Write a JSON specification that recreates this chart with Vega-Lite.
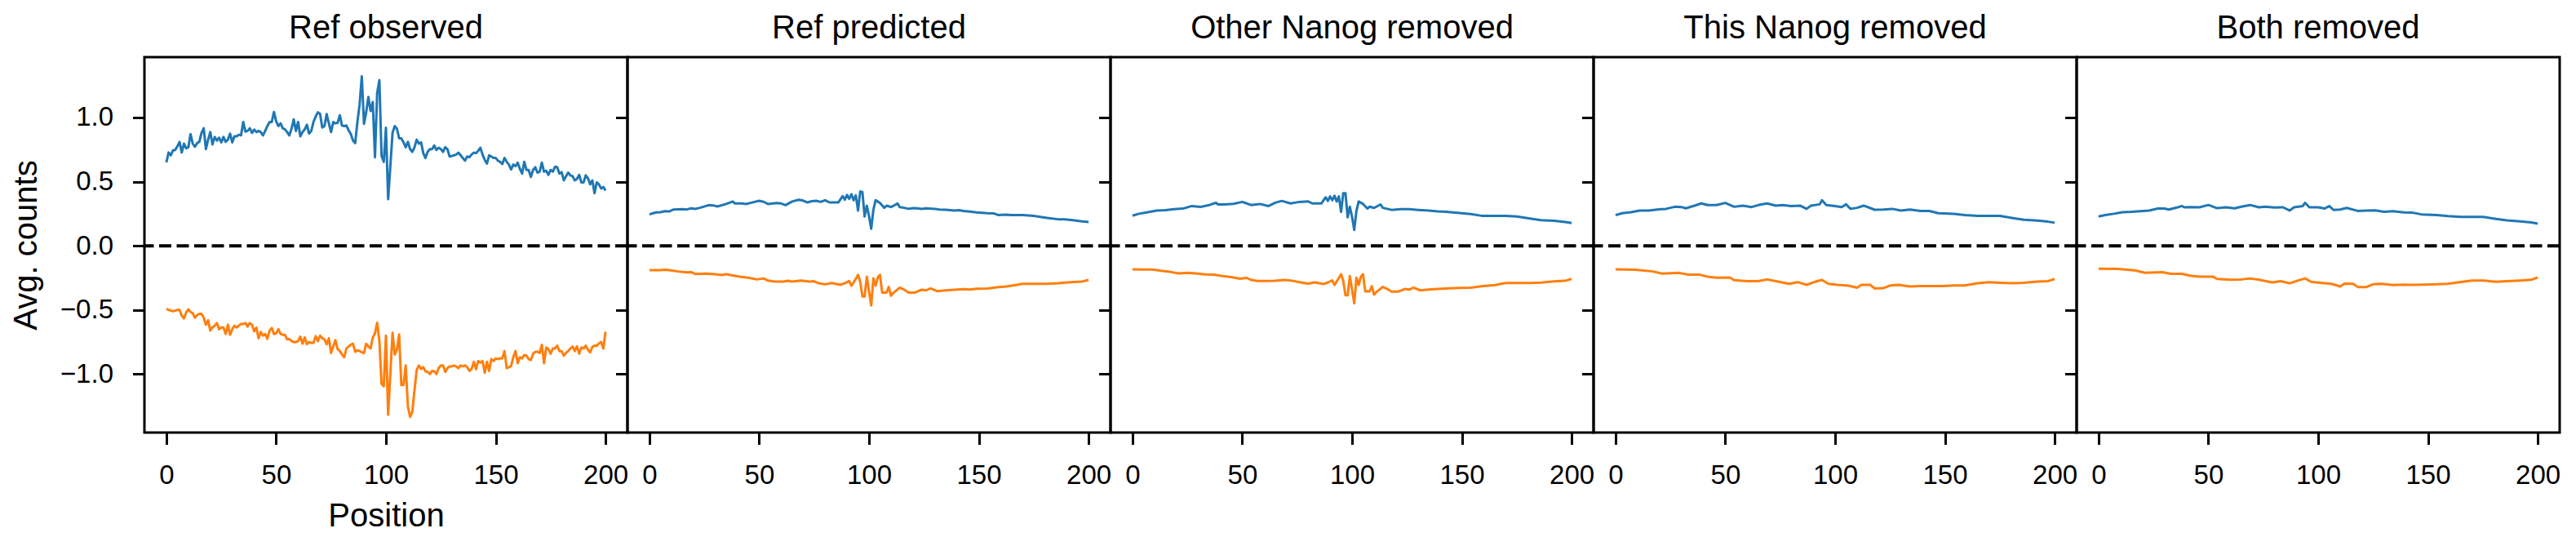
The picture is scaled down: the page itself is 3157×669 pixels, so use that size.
{
"$schema": "https://vega.github.io/schema/vega-lite/v6.json",
"background": "white",
"padding": {"left": 10, "top": 13, "right": 5, "bottom": 5},
"spacing": 0,
"bounds": "flush",
"config": {
  "font": "Liberation Sans",
  "view": {"stroke": "black", "strokeWidth": 3},
  "title": {"font": "Liberation Sans", "fontSize": 40, "fontWeight": "normal", "color": "black", "offset": 15, "baseline": "alphabetic"},
  "axis": {"domain": false, "grid": false, "labelFont": "Liberation Sans", "labelFontSize": 33, "labelColor": "black", "tickColor": "black", "tickSize": 14.5, "tickWidth": 3, "titleFont": "Liberation Sans", "titleFontSize": 40, "titleFontWeight": "normal", "titleColor": "black"},
  "axisX": {"labelPadding": 22, "titlePadding": 13, "labelFlush": false},
  "axisY": {"labelPadding": 24, "titlePadding": 21}
},
"data": {"values": [
{"g":1,"s":"b","x":0,"y":0.65},{"g":1,"s":"b","x":1,"y":0.727},{"g":1,"s":"b","x":2,"y":0.705},{"g":1,"s":"b","x":3,"y":0.743},{"g":1,"s":"b","x":4,"y":0.747},{"g":1,"s":"b","x":5,"y":0.775},{"g":1,"s":"b","x":6,"y":0.81},{"g":1,"s":"b","x":7,"y":0.727},{"g":1,"s":"b","x":8,"y":0.796},{"g":1,"s":"b","x":9,"y":0.76},
{"g":1,"s":"b","x":10,"y":0.768},{"g":1,"s":"b","x":11,"y":0.87},{"g":1,"s":"b","x":12,"y":0.796},{"g":1,"s":"b","x":13,"y":0.772},{"g":1,"s":"b","x":14,"y":0.80},{"g":1,"s":"b","x":15,"y":0.81},{"g":1,"s":"b","x":16,"y":0.88},{"g":1,"s":"b","x":17,"y":0.916},{"g":1,"s":"b","x":18,"y":0.753},{"g":1,"s":"b","x":19,"y":0.827},
{"g":1,"s":"b","x":20,"y":0.886},{"g":1,"s":"b","x":21,"y":0.79},{"g":1,"s":"b","x":22,"y":0.848},{"g":1,"s":"b","x":23,"y":0.82},{"g":1,"s":"b","x":24,"y":0.842},{"g":1,"s":"b","x":25,"y":0.806},{"g":1,"s":"b","x":26,"y":0.848},{"g":1,"s":"b","x":27,"y":0.81},{"g":1,"s":"b","x":28,"y":0.827},{"g":1,"s":"b","x":29,"y":0.874},
{"g":1,"s":"b","x":30,"y":0.806},{"g":1,"s":"b","x":31,"y":0.853},{"g":1,"s":"b","x":32,"y":0.853},{"g":1,"s":"b","x":33,"y":0.865},{"g":1,"s":"b","x":34,"y":0.86},{"g":1,"s":"b","x":35,"y":0.965},{"g":1,"s":"b","x":36,"y":0.89},{"g":1,"s":"b","x":37,"y":0.895},{"g":1,"s":"b","x":38,"y":0.916},{"g":1,"s":"b","x":39,"y":0.88},
{"g":1,"s":"b","x":40,"y":0.905},{"g":1,"s":"b","x":41,"y":0.886},{"g":1,"s":"b","x":42,"y":0.895},{"g":1,"s":"b","x":43,"y":0.886},{"g":1,"s":"b","x":44,"y":0.86},{"g":1,"s":"b","x":45,"y":0.895},{"g":1,"s":"b","x":46,"y":0.933},{"g":1,"s":"b","x":47,"y":0.965},{"g":1,"s":"b","x":48,"y":0.965},{"g":1,"s":"b","x":49,"y":1.043},
{"g":1,"s":"b","x":50,"y":0.97},{"g":1,"s":"b","x":51,"y":0.933},{"g":1,"s":"b","x":52,"y":0.954},{"g":1,"s":"b","x":53,"y":0.916},{"g":1,"s":"b","x":54,"y":0.907},{"g":1,"s":"b","x":55,"y":0.886},{"g":1,"s":"b","x":56,"y":0.86},{"g":1,"s":"b","x":57,"y":0.912},{"g":1,"s":"b","x":58,"y":0.985},{"g":1,"s":"b","x":59,"y":0.895},
{"g":1,"s":"b","x":60,"y":0.965},{"g":1,"s":"b","x":61,"y":0.853},{"g":1,"s":"b","x":62,"y":0.886},{"g":1,"s":"b","x":63,"y":0.907},{"g":1,"s":"b","x":64,"y":0.943},{"g":1,"s":"b","x":65,"y":0.874},{"g":1,"s":"b","x":66,"y":0.895},{"g":1,"s":"b","x":67,"y":0.965},{"g":1,"s":"b","x":68,"y":1.007},{"g":1,"s":"b","x":69,"y":1.04},
{"g":1,"s":"b","x":70,"y":1.028},{"g":1,"s":"b","x":71,"y":0.922},{"g":1,"s":"b","x":72,"y":0.933},{"g":1,"s":"b","x":73,"y":1.026},{"g":1,"s":"b","x":74,"y":0.954},{"g":1,"s":"b","x":75,"y":0.886},{"g":1,"s":"b","x":76,"y":0.965},{"g":1,"s":"b","x":77,"y":0.954},{"g":1,"s":"b","x":78,"y":0.958},{"g":1,"s":"b","x":79,"y":1.017},
{"g":1,"s":"b","x":80,"y":0.937},{"g":1,"s":"b","x":81,"y":0.933},{"g":1,"s":"b","x":82,"y":0.937},{"g":1,"s":"b","x":83,"y":0.90},{"g":1,"s":"b","x":84,"y":0.87},{"g":1,"s":"b","x":85,"y":0.82},{"g":1,"s":"b","x":86,"y":0.80},{"g":1,"s":"b","x":87,"y":0.965},{"g":1,"s":"b","x":88,"y":1.10},{"g":1,"s":"b","x":89,"y":1.32},
{"g":1,"s":"b","x":90,"y":0.95},{"g":1,"s":"b","x":91,"y":1.04},{"g":1,"s":"b","x":92,"y":1.16},{"g":1,"s":"b","x":93,"y":1.05},{"g":1,"s":"b","x":94,"y":1.12},{"g":1,"s":"b","x":95,"y":0.69},{"g":1,"s":"b","x":96,"y":1.19},{"g":1,"s":"b","x":97,"y":1.29},{"g":1,"s":"b","x":98,"y":0.70},{"g":1,"s":"b","x":99,"y":0.654},
{"g":1,"s":"b","x":100,"y":0.92},{"g":1,"s":"b","x":101,"y":0.363},{"g":1,"s":"b","x":102,"y":0.62},{"g":1,"s":"b","x":103,"y":0.88},{"g":1,"s":"b","x":104,"y":0.933},{"g":1,"s":"b","x":105,"y":0.912},{"g":1,"s":"b","x":106,"y":0.838},{"g":1,"s":"b","x":107,"y":0.838},{"g":1,"s":"b","x":108,"y":0.806},{"g":1,"s":"b","x":109,"y":0.768},
{"g":1,"s":"b","x":110,"y":0.81},{"g":1,"s":"b","x":111,"y":0.753},{"g":1,"s":"b","x":112,"y":0.732},{"g":1,"s":"b","x":113,"y":0.768},{"g":1,"s":"b","x":114,"y":0.827},{"g":1,"s":"b","x":115,"y":0.796},{"g":1,"s":"b","x":116,"y":0.806},{"g":1,"s":"b","x":117,"y":0.722},{"g":1,"s":"b","x":118,"y":0.684},{"g":1,"s":"b","x":119,"y":0.732},
{"g":1,"s":"b","x":120,"y":0.753},{"g":1,"s":"b","x":121,"y":0.753},{"g":1,"s":"b","x":122,"y":0.781},{"g":1,"s":"b","x":123,"y":0.747},{"g":1,"s":"b","x":124,"y":0.764},{"g":1,"s":"b","x":125,"y":0.753},{"g":1,"s":"b","x":126,"y":0.732},{"g":1,"s":"b","x":127,"y":0.768},{"g":1,"s":"b","x":128,"y":0.753},{"g":1,"s":"b","x":129,"y":0.696},
{"g":1,"s":"b","x":130,"y":0.70},{"g":1,"s":"b","x":131,"y":0.705},{"g":1,"s":"b","x":132,"y":0.711},{"g":1,"s":"b","x":133,"y":0.726},{"g":1,"s":"b","x":134,"y":0.705},{"g":1,"s":"b","x":135,"y":0.684},{"g":1,"s":"b","x":136,"y":0.663},{"g":1,"s":"b","x":137,"y":0.696},{"g":1,"s":"b","x":138,"y":0.69},{"g":1,"s":"b","x":139,"y":0.711},
{"g":1,"s":"b","x":140,"y":0.726},{"g":1,"s":"b","x":141,"y":0.722},{"g":1,"s":"b","x":142,"y":0.739},{"g":1,"s":"b","x":143,"y":0.764},{"g":1,"s":"b","x":144,"y":0.711},{"g":1,"s":"b","x":145,"y":0.669},{"g":1,"s":"b","x":146,"y":0.641},{"g":1,"s":"b","x":147,"y":0.705},{"g":1,"s":"b","x":148,"y":0.696},{"g":1,"s":"b","x":149,"y":0.684},
{"g":1,"s":"b","x":150,"y":0.684},{"g":1,"s":"b","x":151,"y":0.663},{"g":1,"s":"b","x":152,"y":0.654},{"g":1,"s":"b","x":153,"y":0.637},{"g":1,"s":"b","x":154,"y":0.684},{"g":1,"s":"b","x":155,"y":0.654},{"g":1,"s":"b","x":156,"y":0.633},{"g":1,"s":"b","x":157,"y":0.595},{"g":1,"s":"b","x":158,"y":0.633},{"g":1,"s":"b","x":159,"y":0.62},
{"g":1,"s":"b","x":160,"y":0.648},{"g":1,"s":"b","x":161,"y":0.599},{"g":1,"s":"b","x":162,"y":0.563},{"g":1,"s":"b","x":163,"y":0.654},{"g":1,"s":"b","x":164,"y":0.591},{"g":1,"s":"b","x":165,"y":0.591},{"g":1,"s":"b","x":166,"y":0.536},{"g":1,"s":"b","x":167,"y":0.591},{"g":1,"s":"b","x":168,"y":0.612},{"g":1,"s":"b","x":169,"y":0.57},
{"g":1,"s":"b","x":170,"y":0.578},{"g":1,"s":"b","x":171,"y":0.648},{"g":1,"s":"b","x":172,"y":0.578},{"g":1,"s":"b","x":173,"y":0.585},{"g":1,"s":"b","x":174,"y":0.553},{"g":1,"s":"b","x":175,"y":0.591},{"g":1,"s":"b","x":176,"y":0.578},{"g":1,"s":"b","x":177,"y":0.616},{"g":1,"s":"b","x":178,"y":0.612},{"g":1,"s":"b","x":179,"y":0.563},
{"g":1,"s":"b","x":180,"y":0.574},{"g":1,"s":"b","x":181,"y":0.51},{"g":1,"s":"b","x":182,"y":0.542},{"g":1,"s":"b","x":183,"y":0.57},{"g":1,"s":"b","x":184,"y":0.549},{"g":1,"s":"b","x":185,"y":0.542},{"g":1,"s":"b","x":186,"y":0.51},{"g":1,"s":"b","x":187,"y":0.521},{"g":1,"s":"b","x":188,"y":0.553},{"g":1,"s":"b","x":189,"y":0.494},
{"g":1,"s":"b","x":190,"y":0.494},{"g":1,"s":"b","x":191,"y":0.549},{"g":1,"s":"b","x":192,"y":0.527},{"g":1,"s":"b","x":193,"y":0.479},{"g":1,"s":"b","x":194,"y":0.51},{"g":1,"s":"b","x":195,"y":0.41},{"g":1,"s":"b","x":196,"y":0.494},{"g":1,"s":"b","x":197,"y":0.479},{"g":1,"s":"b","x":198,"y":0.447},{"g":1,"s":"b","x":199,"y":0.458},
{"g":1,"s":"b","x":200,"y":0.43},
{"g":1,"s":"o","x":0,"y":-0.49},{"g":1,"s":"o","x":1,"y":-0.50},{"g":1,"s":"o","x":2,"y":-0.505},{"g":1,"s":"o","x":3,"y":-0.51},{"g":1,"s":"o","x":4,"y":-0.505},{"g":1,"s":"o","x":5,"y":-0.50},{"g":1,"s":"o","x":6,"y":-0.50},{"g":1,"s":"o","x":7,"y":-0.545},{"g":1,"s":"o","x":8,"y":-0.566},{"g":1,"s":"o","x":9,"y":-0.52},
{"g":1,"s":"o","x":10,"y":-0.495},{"g":1,"s":"o","x":11,"y":-0.515},{"g":1,"s":"o","x":12,"y":-0.525},{"g":1,"s":"o","x":13,"y":-0.56},{"g":1,"s":"o","x":14,"y":-0.54},{"g":1,"s":"o","x":15,"y":-0.53},{"g":1,"s":"o","x":16,"y":-0.53},{"g":1,"s":"o","x":17,"y":-0.56},{"g":1,"s":"o","x":18,"y":-0.615},{"g":1,"s":"o","x":19,"y":-0.58},
{"g":1,"s":"o","x":20,"y":-0.66},{"g":1,"s":"o","x":21,"y":-0.636},{"g":1,"s":"o","x":22,"y":-0.623},{"g":1,"s":"o","x":23,"y":-0.602},{"g":1,"s":"o","x":24,"y":-0.65},{"g":1,"s":"o","x":25,"y":-0.636},{"g":1,"s":"o","x":26,"y":-0.636},{"g":1,"s":"o","x":27,"y":-0.687},{"g":1,"s":"o","x":28,"y":-0.615},{"g":1,"s":"o","x":29,"y":-0.693},
{"g":1,"s":"o","x":30,"y":-0.65},{"g":1,"s":"o","x":31,"y":-0.623},{"g":1,"s":"o","x":32,"y":-0.636},{"g":1,"s":"o","x":33,"y":-0.623},{"g":1,"s":"o","x":34,"y":-0.609},{"g":1,"s":"o","x":35,"y":-0.609},{"g":1,"s":"o","x":36,"y":-0.602},{"g":1,"s":"o","x":37,"y":-0.63},{"g":1,"s":"o","x":38,"y":-0.602},{"g":1,"s":"o","x":39,"y":-0.615},
{"g":1,"s":"o","x":40,"y":-0.666},{"g":1,"s":"o","x":41,"y":-0.636},{"g":1,"s":"o","x":42,"y":-0.72},{"g":1,"s":"o","x":43,"y":-0.672},{"g":1,"s":"o","x":44,"y":-0.70},{"g":1,"s":"o","x":45,"y":-0.687},{"g":1,"s":"o","x":46,"y":-0.725},{"g":1,"s":"o","x":47,"y":-0.661},{"g":1,"s":"o","x":48,"y":-0.64},{"g":1,"s":"o","x":49,"y":-0.687},
{"g":1,"s":"o","x":50,"y":-0.683},{"g":1,"s":"o","x":51,"y":-0.65},{"g":1,"s":"o","x":52,"y":-0.687},{"g":1,"s":"o","x":53,"y":-0.693},{"g":1,"s":"o","x":54,"y":-0.693},{"g":1,"s":"o","x":55,"y":-0.729},{"g":1,"s":"o","x":56,"y":-0.725},{"g":1,"s":"o","x":57,"y":-0.742},{"g":1,"s":"o","x":58,"y":-0.75},{"g":1,"s":"o","x":59,"y":-0.75},
{"g":1,"s":"o","x":60,"y":-0.742},{"g":1,"s":"o","x":61,"y":-0.708},{"g":1,"s":"o","x":62,"y":-0.763},{"g":1,"s":"o","x":63,"y":-0.714},{"g":1,"s":"o","x":64,"y":-0.767},{"g":1,"s":"o","x":65,"y":-0.75},{"g":1,"s":"o","x":66,"y":-0.756},{"g":1,"s":"o","x":67,"y":-0.756},{"g":1,"s":"o","x":68,"y":-0.704},{"g":1,"s":"o","x":69,"y":-0.742},
{"g":1,"s":"o","x":70,"y":-0.70},{"g":1,"s":"o","x":71,"y":-0.72},{"g":1,"s":"o","x":72,"y":-0.729},{"g":1,"s":"o","x":73,"y":-0.767},{"g":1,"s":"o","x":74,"y":-0.72},{"g":1,"s":"o","x":75,"y":-0.835},{"g":1,"s":"o","x":76,"y":-0.784},{"g":1,"s":"o","x":77,"y":-0.735},{"g":1,"s":"o","x":78,"y":-0.805},{"g":1,"s":"o","x":79,"y":-0.82},
{"g":1,"s":"o","x":80,"y":-0.847},{"g":1,"s":"o","x":81,"y":-0.868},{"g":1,"s":"o","x":82,"y":-0.80},{"g":1,"s":"o","x":83,"y":-0.784},{"g":1,"s":"o","x":84,"y":-0.771},{"g":1,"s":"o","x":85,"y":-0.763},{"g":1,"s":"o","x":86,"y":-0.826},{"g":1,"s":"o","x":87,"y":-0.813},{"g":1,"s":"o","x":88,"y":-0.82},{"g":1,"s":"o","x":89,"y":-0.83},
{"g":1,"s":"o","x":90,"y":-0.835},{"g":1,"s":"o","x":91,"y":-0.763},{"g":1,"s":"o","x":92,"y":-0.784},{"g":1,"s":"o","x":93,"y":-0.80},{"g":1,"s":"o","x":94,"y":-0.714},{"g":1,"s":"o","x":95,"y":-0.683},{"g":1,"s":"o","x":96,"y":-0.60},{"g":1,"s":"o","x":97,"y":-0.74},{"g":1,"s":"o","x":98,"y":-1.075},{"g":1,"s":"o","x":99,"y":-1.095},
{"g":1,"s":"o","x":100,"y":-0.70},{"g":1,"s":"o","x":101,"y":-1.316},{"g":1,"s":"o","x":102,"y":-1.0},{"g":1,"s":"o","x":103,"y":-0.678},{"g":1,"s":"o","x":104,"y":-0.847},{"g":1,"s":"o","x":105,"y":-0.81},{"g":1,"s":"o","x":106,"y":-0.69},{"g":1,"s":"o","x":107,"y":-1.085},{"g":1,"s":"o","x":108,"y":-1.085},{"g":1,"s":"o","x":109,"y":-0.932},
{"g":1,"s":"o","x":110,"y":-1.253},{"g":1,"s":"o","x":111,"y":-1.333},{"g":1,"s":"o","x":112,"y":-1.295},{"g":1,"s":"o","x":113,"y":-1.126},{"g":1,"s":"o","x":114,"y":-0.968},{"g":1,"s":"o","x":115,"y":-0.932},{"g":1,"s":"o","x":116,"y":-0.961},{"g":1,"s":"o","x":117,"y":-0.946},{"g":1,"s":"o","x":118,"y":-0.978},{"g":1,"s":"o","x":119,"y":-0.982},
{"g":1,"s":"o","x":120,"y":-0.999},{"g":1,"s":"o","x":121,"y":-0.974},{"g":1,"s":"o","x":122,"y":-0.978},{"g":1,"s":"o","x":123,"y":-0.999},{"g":1,"s":"o","x":124,"y":-0.953},{"g":1,"s":"o","x":125,"y":-0.932},{"g":1,"s":"o","x":126,"y":-0.932},{"g":1,"s":"o","x":127,"y":-0.982},{"g":1,"s":"o","x":128,"y":-0.953},{"g":1,"s":"o","x":129,"y":-0.94},
{"g":1,"s":"o","x":130,"y":-0.94},{"g":1,"s":"o","x":131,"y":-0.932},{"g":1,"s":"o","x":132,"y":-0.94},{"g":1,"s":"o","x":133,"y":-0.953},{"g":1,"s":"o","x":134,"y":-0.932},{"g":1,"s":"o","x":135,"y":-0.94},{"g":1,"s":"o","x":136,"y":-0.932},{"g":1,"s":"o","x":137,"y":-0.946},{"g":1,"s":"o","x":138,"y":-0.974},{"g":1,"s":"o","x":139,"y":-0.961},
{"g":1,"s":"o","x":140,"y":-0.904},{"g":1,"s":"o","x":141,"y":-0.961},{"g":1,"s":"o","x":142,"y":-0.898},{"g":1,"s":"o","x":143,"y":-0.91},{"g":1,"s":"o","x":144,"y":-0.898},{"g":1,"s":"o","x":145,"y":-0.989},{"g":1,"s":"o","x":146,"y":-0.904},{"g":1,"s":"o","x":147,"y":-0.974},{"g":1,"s":"o","x":148,"y":-0.883},{"g":1,"s":"o","x":149,"y":-0.898},
{"g":1,"s":"o","x":150,"y":-0.877},{"g":1,"s":"o","x":151,"y":-0.883},{"g":1,"s":"o","x":152,"y":-0.877},{"g":1,"s":"o","x":153,"y":-0.877},{"g":1,"s":"o","x":154,"y":-0.82},{"g":1,"s":"o","x":155,"y":-0.953},{"g":1,"s":"o","x":156,"y":-0.946},{"g":1,"s":"o","x":157,"y":-0.936},{"g":1,"s":"o","x":158,"y":-0.868},{"g":1,"s":"o","x":159,"y":-0.82},
{"g":1,"s":"o","x":160,"y":-0.915},{"g":1,"s":"o","x":161,"y":-0.868},{"g":1,"s":"o","x":162,"y":-0.877},{"g":1,"s":"o","x":163,"y":-0.851},{"g":1,"s":"o","x":164,"y":-0.856},{"g":1,"s":"o","x":165,"y":-0.883},{"g":1,"s":"o","x":166,"y":-0.89},{"g":1,"s":"o","x":167,"y":-0.841},{"g":1,"s":"o","x":168,"y":-0.826},{"g":1,"s":"o","x":169,"y":-0.826},
{"g":1,"s":"o","x":170,"y":-0.835},{"g":1,"s":"o","x":171,"y":-0.771},{"g":1,"s":"o","x":172,"y":-0.915},{"g":1,"s":"o","x":173,"y":-0.792},{"g":1,"s":"o","x":174,"y":-0.805},{"g":1,"s":"o","x":175,"y":-0.841},{"g":1,"s":"o","x":176,"y":-0.80},{"g":1,"s":"o","x":177,"y":-0.80},{"g":1,"s":"o","x":178,"y":-0.778},{"g":1,"s":"o","x":179,"y":-0.82},
{"g":1,"s":"o","x":180,"y":-0.82},{"g":1,"s":"o","x":181,"y":-0.856},{"g":1,"s":"o","x":182,"y":-0.835},{"g":1,"s":"o","x":183,"y":-0.82},{"g":1,"s":"o","x":184,"y":-0.80},{"g":1,"s":"o","x":185,"y":-0.784},{"g":1,"s":"o","x":186,"y":-0.82},{"g":1,"s":"o","x":187,"y":-0.784},{"g":1,"s":"o","x":188,"y":-0.841},{"g":1,"s":"o","x":189,"y":-0.792},
{"g":1,"s":"o","x":190,"y":-0.80},{"g":1,"s":"o","x":191,"y":-0.778},{"g":1,"s":"o","x":192,"y":-0.81},{"g":1,"s":"o","x":193,"y":-0.83},{"g":1,"s":"o","x":194,"y":-0.788},{"g":1,"s":"o","x":195,"y":-0.778},{"g":1,"s":"o","x":196,"y":-0.78},{"g":1,"s":"o","x":197,"y":-0.76},{"g":1,"s":"o","x":198,"y":-0.75},{"g":1,"s":"o","x":199,"y":-0.80},
{"g":1,"s":"o","x":200,"y":-0.67},
{"g":2,"s":"b","x":0,"y":0.245},{"g":2,"s":"b","x":3,"y":0.26},{"g":2,"s":"b","x":5,"y":0.262},{"g":2,"s":"b","x":7,"y":0.27},{"g":2,"s":"b","x":9,"y":0.268},{"g":2,"s":"b","x":11,"y":0.283},{"g":2,"s":"b","x":15,"y":0.285},{"g":2,"s":"b","x":17,"y":0.283},{"g":2,"s":"b","x":19,"y":0.292},{"g":2,"s":"b","x":21,"y":0.288},{"g":2,"s":"b","x":23,"y":0.296},{"g":2,"s":"b","x":27,"y":0.317},{"g":2,"s":"b","x":29,"y":0.315},{"g":2,"s":"b","x":31,"y":0.306},{"g":2,"s":"b","x":35,"y":0.326},{"g":2,"s":"b","x":38,"y":0.345},{"g":2,"s":"b","x":39,"y":0.33},{"g":2,"s":"b","x":42,"y":0.33},{"g":2,"s":"b","x":44,"y":0.325},{"g":2,"s":"b","x":46,"y":0.334},{"g":2,"s":"b","x":50,"y":0.351},{"g":2,"s":"b","x":52,"y":0.343},{"g":2,"s":"b","x":54,"y":0.326},{"g":2,"s":"b","x":58,"y":0.334},{"g":2,"s":"b","x":60,"y":0.33},{"g":2,"s":"b","x":62,"y":0.317},{"g":2,"s":"b","x":65,"y":0.345},{"g":2,"s":"b","x":68,"y":0.359},{"g":2,"s":"b","x":70,"y":0.352},{"g":2,"s":"b","x":72,"y":0.338},{"g":2,"s":"b","x":74,"y":0.348},{"g":2,"s":"b","x":76,"y":0.351},{"g":2,"s":"b","x":78,"y":0.342},{"g":2,"s":"b","x":80,"y":0.355},{"g":2,"s":"b","x":82,"y":0.338},{"g":2,"s":"b","x":86,"y":0.338},{"g":2,"s":"b","x":88,"y":0.387},{"g":2,"s":"b","x":89,"y":0.359},{"g":2,"s":"b","x":90,"y":0.397},{"g":2,"s":"b","x":91,"y":0.366},{"g":2,"s":"b","x":92,"y":0.402},{"g":2,"s":"b","x":93,"y":0.355},{"g":2,"s":"b","x":94,"y":0.393},{"g":2,"s":"b","x":95,"y":0.275},{"g":2,"s":"b","x":96,"y":0.423},{"g":2,"s":"b","x":97,"y":0.419},{"g":2,"s":"b","x":98,"y":0.228},{"g":2,"s":"b","x":99,"y":0.313},{"g":2,"s":"b","x":100,"y":0.233},{"g":2,"s":"b","x":101,"y":0.133},{"g":2,"s":"b","x":102,"y":0.281},{"g":2,"s":"b","x":103,"y":0.355},{"g":2,"s":"b","x":105,"y":0.334},{"g":2,"s":"b","x":107,"y":0.296},{"g":2,"s":"b","x":108,"y":0.313},{"g":2,"s":"b","x":110,"y":0.302},{"g":2,"s":"b","x":111,"y":0.31},{"g":2,"s":"b","x":113,"y":0.33},{"g":2,"s":"b","x":114,"y":0.302},{"g":2,"s":"b","x":116,"y":0.296},{"g":2,"s":"b","x":118,"y":0.288},{"g":2,"s":"b","x":120,"y":0.294},{"g":2,"s":"b","x":122,"y":0.292},{"g":2,"s":"b","x":124,"y":0.288},{"g":2,"s":"b","x":126,"y":0.292},{"g":2,"s":"b","x":130,"y":0.288},{"g":2,"s":"b","x":132,"y":0.282},{"g":2,"s":"b","x":135,"y":0.281},{"g":2,"s":"b","x":137,"y":0.278},{"g":2,"s":"b","x":139,"y":0.275},{"g":2,"s":"b","x":141,"y":0.278},{"g":2,"s":"b","x":143,"y":0.271},{"g":2,"s":"b","x":146,"y":0.266},{"g":2,"s":"b","x":149,"y":0.26},{"g":2,"s":"b","x":154,"y":0.254},{"g":2,"s":"b","x":157,"y":0.252},{"g":2,"s":"b","x":159,"y":0.239},{"g":2,"s":"b","x":162,"y":0.243},{"g":2,"s":"b","x":165,"y":0.239},{"g":2,"s":"b","x":170,"y":0.239},{"g":2,"s":"b","x":175,"y":0.233},{"g":2,"s":"b","x":178,"y":0.225},{"g":2,"s":"b","x":181,"y":0.218},{"g":2,"s":"b","x":186,"y":0.207},{"g":2,"s":"b","x":189,"y":0.206},{"g":2,"s":"b","x":192,"y":0.201},{"g":2,"s":"b","x":197,"y":0.19},{"g":2,"s":"b","x":200,"y":0.186},
{"g":2,"s":"o","x":0,"y":-0.19},{"g":2,"s":"o","x":5,"y":-0.19},{"g":2,"s":"o","x":7,"y":-0.186},{"g":2,"s":"o","x":9,"y":-0.19},{"g":2,"s":"o","x":13,"y":-0.2},{"g":2,"s":"o","x":17,"y":-0.207},{"g":2,"s":"o","x":19,"y":-0.205},{"g":2,"s":"o","x":21,"y":-0.22},{"g":2,"s":"o","x":25,"y":-0.216},{"g":2,"s":"o","x":29,"y":-0.22},{"g":2,"s":"o","x":33,"y":-0.228},{"g":2,"s":"o","x":35,"y":-0.222},{"g":2,"s":"o","x":37,"y":-0.228},{"g":2,"s":"o","x":41,"y":-0.241},{"g":2,"s":"o","x":45,"y":-0.249},{"g":2,"s":"o","x":49,"y":-0.262},{"g":2,"s":"o","x":52,"y":-0.254},{"g":2,"s":"o","x":54,"y":-0.271},{"g":2,"s":"o","x":57,"y":-0.279},{"g":2,"s":"o","x":61,"y":-0.279},{"g":2,"s":"o","x":63,"y":-0.272},{"g":2,"s":"o","x":65,"y":-0.279},{"g":2,"s":"o","x":69,"y":-0.271},{"g":2,"s":"o","x":73,"y":-0.279},{"g":2,"s":"o","x":75,"y":-0.276},{"g":2,"s":"o","x":77,"y":-0.292},{"g":2,"s":"o","x":80,"y":-0.3},{"g":2,"s":"o","x":83,"y":-0.29},{"g":2,"s":"o","x":87,"y":-0.304},{"g":2,"s":"o","x":89,"y":-0.29},{"g":2,"s":"o","x":91,"y":-0.275},{"g":2,"s":"o","x":92,"y":-0.311},{"g":2,"s":"o","x":94,"y":-0.258},{"g":2,"s":"o","x":95,"y":-0.226},{"g":2,"s":"o","x":96,"y":-0.279},{"g":2,"s":"o","x":97,"y":-0.395},{"g":2,"s":"o","x":98,"y":-0.395},{"g":2,"s":"o","x":99,"y":-0.241},{"g":2,"s":"o","x":101,"y":-0.465},{"g":2,"s":"o","x":102,"y":-0.254},{"g":2,"s":"o","x":103,"y":-0.311},{"g":2,"s":"o","x":104,"y":-0.247},{"g":2,"s":"o","x":105,"y":-0.226},{"g":2,"s":"o","x":106,"y":-0.364},{"g":2,"s":"o","x":108,"y":-0.364},{"g":2,"s":"o","x":109,"y":-0.321},{"g":2,"s":"o","x":110,"y":-0.389},{"g":2,"s":"o","x":111,"y":-0.368},{"g":2,"s":"o","x":114,"y":-0.326},{"g":2,"s":"o","x":116,"y":-0.342},{"g":2,"s":"o","x":118,"y":-0.364},{"g":2,"s":"o","x":121,"y":-0.364},{"g":2,"s":"o","x":124,"y":-0.342},{"g":2,"s":"o","x":126,"y":-0.347},{"g":2,"s":"o","x":128,"y":-0.332},{"g":2,"s":"o","x":131,"y":-0.353},{"g":2,"s":"o","x":135,"y":-0.347},{"g":2,"s":"o","x":139,"y":-0.342},{"g":2,"s":"o","x":143,"y":-0.338},{"g":2,"s":"o","x":146,"y":-0.341},{"g":2,"s":"o","x":149,"y":-0.334},{"g":2,"s":"o","x":154,"y":-0.332},{"g":2,"s":"o","x":159,"y":-0.321},{"g":2,"s":"o","x":162,"y":-0.318},{"g":2,"s":"o","x":165,"y":-0.311},{"g":2,"s":"o","x":170,"y":-0.296},{"g":2,"s":"o","x":175,"y":-0.296},{"g":2,"s":"o","x":181,"y":-0.296},{"g":2,"s":"o","x":186,"y":-0.292},{"g":2,"s":"o","x":192,"y":-0.283},{"g":2,"s":"o","x":197,"y":-0.279},{"g":2,"s":"o","x":200,"y":-0.266},
{"g":3,"s":"b","x":0,"y":0.235},{"g":3,"s":"b","x":3,"y":0.25},{"g":3,"s":"b","x":7,"y":0.262},{"g":3,"s":"b","x":11,"y":0.275},{"g":3,"s":"b","x":15,"y":0.278},{"g":3,"s":"b","x":19,"y":0.285},{"g":3,"s":"b","x":23,"y":0.29},{"g":3,"s":"b","x":27,"y":0.31},{"g":3,"s":"b","x":31,"y":0.303},{"g":3,"s":"b","x":35,"y":0.318},{"g":3,"s":"b","x":38,"y":0.335},{"g":3,"s":"b","x":39,"y":0.322},{"g":3,"s":"b","x":42,"y":0.322},{"g":3,"s":"b","x":46,"y":0.327},{"g":3,"s":"b","x":50,"y":0.342},{"g":3,"s":"b","x":54,"y":0.318},{"g":3,"s":"b","x":58,"y":0.326},{"g":3,"s":"b","x":62,"y":0.31},{"g":3,"s":"b","x":65,"y":0.336},{"g":3,"s":"b","x":68,"y":0.35},{"g":3,"s":"b","x":72,"y":0.33},{"g":3,"s":"b","x":76,"y":0.342},{"g":3,"s":"b","x":80,"y":0.346},{"g":3,"s":"b","x":82,"y":0.33},{"g":3,"s":"b","x":86,"y":0.33},{"g":3,"s":"b","x":88,"y":0.378},{"g":3,"s":"b","x":89,"y":0.35},{"g":3,"s":"b","x":90,"y":0.385},{"g":3,"s":"b","x":91,"y":0.355},{"g":3,"s":"b","x":92,"y":0.39},{"g":3,"s":"b","x":93,"y":0.345},{"g":3,"s":"b","x":94,"y":0.385},{"g":3,"s":"b","x":95,"y":0.265},{"g":3,"s":"b","x":96,"y":0.41},{"g":3,"s":"b","x":97,"y":0.41},{"g":3,"s":"b","x":98,"y":0.222},{"g":3,"s":"b","x":99,"y":0.305},{"g":3,"s":"b","x":100,"y":0.225},{"g":3,"s":"b","x":101,"y":0.123},{"g":3,"s":"b","x":102,"y":0.272},{"g":3,"s":"b","x":103,"y":0.345},{"g":3,"s":"b","x":105,"y":0.326},{"g":3,"s":"b","x":107,"y":0.29},{"g":3,"s":"b","x":108,"y":0.305},{"g":3,"s":"b","x":110,"y":0.295},{"g":3,"s":"b","x":113,"y":0.322},{"g":3,"s":"b","x":114,"y":0.296},{"g":3,"s":"b","x":118,"y":0.28},{"g":3,"s":"b","x":122,"y":0.285},{"g":3,"s":"b","x":126,"y":0.285},{"g":3,"s":"b","x":130,"y":0.28},{"g":3,"s":"b","x":135,"y":0.274},{"g":3,"s":"b","x":139,"y":0.268},{"g":3,"s":"b","x":143,"y":0.265},{"g":3,"s":"b","x":149,"y":0.255},{"g":3,"s":"b","x":154,"y":0.248},{"g":3,"s":"b","x":159,"y":0.234},{"g":3,"s":"b","x":165,"y":0.234},{"g":3,"s":"b","x":170,"y":0.233},{"g":3,"s":"b","x":175,"y":0.228},{"g":3,"s":"b","x":181,"y":0.212},{"g":3,"s":"b","x":186,"y":0.2},{"g":3,"s":"b","x":192,"y":0.195},{"g":3,"s":"b","x":197,"y":0.185},{"g":3,"s":"b","x":200,"y":0.177},
{"g":3,"s":"o","x":0,"y":-0.184},{"g":3,"s":"o","x":5,"y":-0.185},{"g":3,"s":"o","x":9,"y":-0.185},{"g":3,"s":"o","x":13,"y":-0.195},{"g":3,"s":"o","x":17,"y":-0.203},{"g":3,"s":"o","x":21,"y":-0.215},{"g":3,"s":"o","x":25,"y":-0.21},{"g":3,"s":"o","x":29,"y":-0.215},{"g":3,"s":"o","x":33,"y":-0.223},{"g":3,"s":"o","x":37,"y":-0.224},{"g":3,"s":"o","x":41,"y":-0.236},{"g":3,"s":"o","x":45,"y":-0.244},{"g":3,"s":"o","x":49,"y":-0.256},{"g":3,"s":"o","x":52,"y":-0.25},{"g":3,"s":"o","x":54,"y":-0.266},{"g":3,"s":"o","x":57,"y":-0.274},{"g":3,"s":"o","x":61,"y":-0.274},{"g":3,"s":"o","x":65,"y":-0.272},{"g":3,"s":"o","x":69,"y":-0.266},{"g":3,"s":"o","x":73,"y":-0.273},{"g":3,"s":"o","x":77,"y":-0.286},{"g":3,"s":"o","x":80,"y":-0.295},{"g":3,"s":"o","x":83,"y":-0.285},{"g":3,"s":"o","x":87,"y":-0.298},{"g":3,"s":"o","x":89,"y":-0.285},{"g":3,"s":"o","x":91,"y":-0.27},{"g":3,"s":"o","x":92,"y":-0.305},{"g":3,"s":"o","x":94,"y":-0.252},{"g":3,"s":"o","x":95,"y":-0.222},{"g":3,"s":"o","x":96,"y":-0.274},{"g":3,"s":"o","x":97,"y":-0.385},{"g":3,"s":"o","x":98,"y":-0.385},{"g":3,"s":"o","x":99,"y":-0.236},{"g":3,"s":"o","x":101,"y":-0.448},{"g":3,"s":"o","x":102,"y":-0.248},{"g":3,"s":"o","x":103,"y":-0.305},{"g":3,"s":"o","x":104,"y":-0.242},{"g":3,"s":"o","x":105,"y":-0.222},{"g":3,"s":"o","x":106,"y":-0.355},{"g":3,"s":"o","x":108,"y":-0.355},{"g":3,"s":"o","x":109,"y":-0.315},{"g":3,"s":"o","x":110,"y":-0.38},{"g":3,"s":"o","x":111,"y":-0.362},{"g":3,"s":"o","x":114,"y":-0.32},{"g":3,"s":"o","x":116,"y":-0.336},{"g":3,"s":"o","x":118,"y":-0.357},{"g":3,"s":"o","x":121,"y":-0.357},{"g":3,"s":"o","x":124,"y":-0.336},{"g":3,"s":"o","x":126,"y":-0.341},{"g":3,"s":"o","x":128,"y":-0.326},{"g":3,"s":"o","x":131,"y":-0.347},{"g":3,"s":"o","x":135,"y":-0.34},{"g":3,"s":"o","x":139,"y":-0.336},{"g":3,"s":"o","x":143,"y":-0.332},{"g":3,"s":"o","x":149,"y":-0.328},{"g":3,"s":"o","x":154,"y":-0.326},{"g":3,"s":"o","x":159,"y":-0.315},{"g":3,"s":"o","x":165,"y":-0.306},{"g":3,"s":"o","x":170,"y":-0.29},{"g":3,"s":"o","x":175,"y":-0.29},{"g":3,"s":"o","x":181,"y":-0.29},{"g":3,"s":"o","x":186,"y":-0.286},{"g":3,"s":"o","x":192,"y":-0.277},{"g":3,"s":"o","x":197,"y":-0.273},{"g":3,"s":"o","x":200,"y":-0.258},
{"g":4,"s":"b","x":0,"y":0.239},{"g":4,"s":"b","x":3,"y":0.254},{"g":4,"s":"b","x":7,"y":0.262},{"g":4,"s":"b","x":11,"y":0.275},{"g":4,"s":"b","x":15,"y":0.275},{"g":4,"s":"b","x":19,"y":0.283},{"g":4,"s":"b","x":23,"y":0.288},{"g":4,"s":"b","x":27,"y":0.304},{"g":4,"s":"b","x":30,"y":0.302},{"g":4,"s":"b","x":32,"y":0.292},{"g":4,"s":"b","x":36,"y":0.313},{"g":4,"s":"b","x":39,"y":0.33},{"g":4,"s":"b","x":42,"y":0.317},{"g":4,"s":"b","x":46,"y":0.317},{"g":4,"s":"b","x":50,"y":0.334},{"g":4,"s":"b","x":54,"y":0.304},{"g":4,"s":"b","x":58,"y":0.313},{"g":4,"s":"b","x":62,"y":0.302},{"g":4,"s":"b","x":65,"y":0.317},{"g":4,"s":"b","x":69,"y":0.33},{"g":4,"s":"b","x":73,"y":0.313},{"g":4,"s":"b","x":76,"y":0.317},{"g":4,"s":"b","x":80,"y":0.309},{"g":4,"s":"b","x":84,"y":0.313},{"g":4,"s":"b","x":87,"y":0.288},{"g":4,"s":"b","x":89,"y":0.313},{"g":4,"s":"b","x":93,"y":0.323},{"g":4,"s":"b","x":94,"y":0.355},{"g":4,"s":"b","x":96,"y":0.317},{"g":4,"s":"b","x":100,"y":0.309},{"g":4,"s":"b","x":103,"y":0.302},{"g":4,"s":"b","x":105,"y":0.323},{"g":4,"s":"b","x":107,"y":0.288},{"g":4,"s":"b","x":110,"y":0.296},{"g":4,"s":"b","x":113,"y":0.313},{"g":4,"s":"b","x":118,"y":0.281},{"g":4,"s":"b","x":122,"y":0.283},{"g":4,"s":"b","x":126,"y":0.288},{"g":4,"s":"b","x":130,"y":0.275},{"g":4,"s":"b","x":134,"y":0.283},{"g":4,"s":"b","x":139,"y":0.271},{"g":4,"s":"b","x":143,"y":0.271},{"g":4,"s":"b","x":147,"y":0.254},{"g":4,"s":"b","x":154,"y":0.249},{"g":4,"s":"b","x":159,"y":0.239},{"g":4,"s":"b","x":165,"y":0.233},{"g":4,"s":"b","x":170,"y":0.233},{"g":4,"s":"b","x":175,"y":0.233},{"g":4,"s":"b","x":181,"y":0.216},{"g":4,"s":"b","x":186,"y":0.203},{"g":4,"s":"b","x":192,"y":0.197},{"g":4,"s":"b","x":197,"y":0.188},{"g":4,"s":"b","x":200,"y":0.18},
{"g":4,"s":"o","x":0,"y":-0.184},{"g":4,"s":"o","x":9,"y":-0.186},{"g":4,"s":"o","x":17,"y":-0.2},{"g":4,"s":"o","x":21,"y":-0.216},{"g":4,"s":"o","x":29,"y":-0.211},{"g":4,"s":"o","x":33,"y":-0.224},{"g":4,"s":"o","x":38,"y":-0.224},{"g":4,"s":"o","x":42,"y":-0.241},{"g":4,"s":"o","x":46,"y":-0.249},{"g":4,"s":"o","x":52,"y":-0.247},{"g":4,"s":"o","x":54,"y":-0.268},{"g":4,"s":"o","x":60,"y":-0.275},{"g":4,"s":"o","x":65,"y":-0.275},{"g":4,"s":"o","x":69,"y":-0.262},{"g":4,"s":"o","x":73,"y":-0.275},{"g":4,"s":"o","x":79,"y":-0.296},{"g":4,"s":"o","x":83,"y":-0.283},{"g":4,"s":"o","x":87,"y":-0.304},{"g":4,"s":"o","x":91,"y":-0.279},{"g":4,"s":"o","x":94,"y":-0.266},{"g":4,"s":"o","x":97,"y":-0.296},{"g":4,"s":"o","x":101,"y":-0.304},{"g":4,"s":"o","x":106,"y":-0.311},{"g":4,"s":"o","x":110,"y":-0.326},{"g":4,"s":"o","x":112,"y":-0.304},{"g":4,"s":"o","x":116,"y":-0.304},{"g":4,"s":"o","x":118,"y":-0.332},{"g":4,"s":"o","x":122,"y":-0.33},{"g":4,"s":"o","x":125,"y":-0.309},{"g":4,"s":"o","x":129,"y":-0.304},{"g":4,"s":"o","x":134,"y":-0.317},{"g":4,"s":"o","x":139,"y":-0.313},{"g":4,"s":"o","x":143,"y":-0.313},{"g":4,"s":"o","x":149,"y":-0.313},{"g":4,"s":"o","x":154,"y":-0.309},{"g":4,"s":"o","x":159,"y":-0.309},{"g":4,"s":"o","x":165,"y":-0.292},{"g":4,"s":"o","x":170,"y":-0.283},{"g":4,"s":"o","x":175,"y":-0.288},{"g":4,"s":"o","x":181,"y":-0.292},{"g":4,"s":"o","x":186,"y":-0.288},{"g":4,"s":"o","x":192,"y":-0.279},{"g":4,"s":"o","x":197,"y":-0.275},{"g":4,"s":"o","x":200,"y":-0.258},
{"g":5,"s":"b","x":0,"y":0.228},{"g":5,"s":"b","x":3,"y":0.24},{"g":5,"s":"b","x":7,"y":0.25},{"g":5,"s":"b","x":11,"y":0.262},{"g":5,"s":"b","x":15,"y":0.265},{"g":5,"s":"b","x":19,"y":0.27},{"g":5,"s":"b","x":23,"y":0.275},{"g":5,"s":"b","x":27,"y":0.29},{"g":5,"s":"b","x":30,"y":0.29},{"g":5,"s":"b","x":32,"y":0.283},{"g":5,"s":"b","x":36,"y":0.3},{"g":5,"s":"b","x":38,"y":0.31},{"g":5,"s":"b","x":39,"y":0.3},{"g":5,"s":"b","x":42,"y":0.302},{"g":5,"s":"b","x":46,"y":0.3},{"g":5,"s":"b","x":50,"y":0.318},{"g":5,"s":"b","x":54,"y":0.293},{"g":5,"s":"b","x":58,"y":0.3},{"g":5,"s":"b","x":62,"y":0.292},{"g":5,"s":"b","x":65,"y":0.305},{"g":5,"s":"b","x":69,"y":0.318},{"g":5,"s":"b","x":73,"y":0.3},{"g":5,"s":"b","x":76,"y":0.305},{"g":5,"s":"b","x":80,"y":0.298},{"g":5,"s":"b","x":84,"y":0.3},{"g":5,"s":"b","x":87,"y":0.275},{"g":5,"s":"b","x":89,"y":0.3},{"g":5,"s":"b","x":93,"y":0.31},{"g":5,"s":"b","x":94,"y":0.335},{"g":5,"s":"b","x":96,"y":0.3},{"g":5,"s":"b","x":100,"y":0.3},{"g":5,"s":"b","x":103,"y":0.29},{"g":5,"s":"b","x":105,"y":0.31},{"g":5,"s":"b","x":107,"y":0.28},{"g":5,"s":"b","x":110,"y":0.283},{"g":5,"s":"b","x":113,"y":0.295},{"g":5,"s":"b","x":118,"y":0.272},{"g":5,"s":"b","x":122,"y":0.275},{"g":5,"s":"b","x":126,"y":0.276},{"g":5,"s":"b","x":130,"y":0.265},{"g":5,"s":"b","x":134,"y":0.27},{"g":5,"s":"b","x":139,"y":0.26},{"g":5,"s":"b","x":143,"y":0.258},{"g":5,"s":"b","x":147,"y":0.245},{"g":5,"s":"b","x":154,"y":0.24},{"g":5,"s":"b","x":159,"y":0.232},{"g":5,"s":"b","x":165,"y":0.225},{"g":5,"s":"b","x":170,"y":0.226},{"g":5,"s":"b","x":175,"y":0.225},{"g":5,"s":"b","x":181,"y":0.21},{"g":5,"s":"b","x":186,"y":0.198},{"g":5,"s":"b","x":192,"y":0.19},{"g":5,"s":"b","x":197,"y":0.182},{"g":5,"s":"b","x":200,"y":0.173},
{"g":5,"s":"o","x":0,"y":-0.178},{"g":5,"s":"o","x":9,"y":-0.18},{"g":5,"s":"o","x":17,"y":-0.193},{"g":5,"s":"o","x":21,"y":-0.21},{"g":5,"s":"o","x":29,"y":-0.206},{"g":5,"s":"o","x":33,"y":-0.218},{"g":5,"s":"o","x":38,"y":-0.218},{"g":5,"s":"o","x":42,"y":-0.234},{"g":5,"s":"o","x":46,"y":-0.24},{"g":5,"s":"o","x":52,"y":-0.24},{"g":5,"s":"o","x":54,"y":-0.258},{"g":5,"s":"o","x":60,"y":-0.264},{"g":5,"s":"o","x":65,"y":-0.262},{"g":5,"s":"o","x":69,"y":-0.254},{"g":5,"s":"o","x":73,"y":-0.264},{"g":5,"s":"o","x":79,"y":-0.285},{"g":5,"s":"o","x":83,"y":-0.275},{"g":5,"s":"o","x":87,"y":-0.292},{"g":5,"s":"o","x":91,"y":-0.27},{"g":5,"s":"o","x":94,"y":-0.254},{"g":5,"s":"o","x":97,"y":-0.282},{"g":5,"s":"o","x":101,"y":-0.288},{"g":5,"s":"o","x":106,"y":-0.296},{"g":5,"s":"o","x":110,"y":-0.317},{"g":5,"s":"o","x":112,"y":-0.294},{"g":5,"s":"o","x":116,"y":-0.296},{"g":5,"s":"o","x":118,"y":-0.321},{"g":5,"s":"o","x":122,"y":-0.321},{"g":5,"s":"o","x":125,"y":-0.3},{"g":5,"s":"o","x":129,"y":-0.296},{"g":5,"s":"o","x":134,"y":-0.306},{"g":5,"s":"o","x":139,"y":-0.303},{"g":5,"s":"o","x":143,"y":-0.304},{"g":5,"s":"o","x":149,"y":-0.302},{"g":5,"s":"o","x":154,"y":-0.3},{"g":5,"s":"o","x":159,"y":-0.296},{"g":5,"s":"o","x":165,"y":-0.282},{"g":5,"s":"o","x":170,"y":-0.27},{"g":5,"s":"o","x":175,"y":-0.27},{"g":5,"s":"o","x":181,"y":-0.28},{"g":5,"s":"o","x":186,"y":-0.275},{"g":5,"s":"o","x":192,"y":-0.27},{"g":5,"s":"o","x":197,"y":-0.265},{"g":5,"s":"o","x":200,"y":-0.247}
]},
"hconcat": [
{"width": 592, "height": 460, "title": "Ref observed",
 "layer": [
  {"transform": [{"filter": "datum.g == 1"}],
   "mark": {"type": "line", "strokeWidth": 3, "strokeJoin": "round"},
   "encoding": {
    "x": {"field": "x", "type": "quantitative", "scale": {"domain": [-10, 210], "nice": false, "zero": false}, "axis": {"values": [0, 50, 100, 150, 200], "title": "Position"}},
    "y": {"field": "y", "type": "quantitative", "scale": {"domain": [-1.455, 1.47], "nice": false, "zero": false}, "axis": {"values": [-1, -0.5, 0, 0.5, 1], "format": ".1f", "title": "Avg. counts"}},
    "color": {"field": "s", "type": "nominal", "scale": {"domain": ["b", "o"], "range": ["#1f77b4", "#ff7f0e"]}, "legend": null}}},
  {"data": {"values": [{"z": 0}]}, "mark": {"type": "rule", "color": "black", "strokeWidth": 4, "strokeDash": [15, 6.5]}, "encoding": {"y": {"datum": 0}}}
 ]},
{"width": 592, "height": 460, "title": "Ref predicted",
 "layer": [
  {"transform": [{"filter": "datum.g == 2"}],
   "mark": {"type": "line", "strokeWidth": 3, "strokeJoin": "round"},
   "encoding": {
    "x": {"field": "x", "type": "quantitative", "scale": {"domain": [-10, 210], "nice": false, "zero": false}, "axis": {"values": [0, 50, 100, 150, 200], "title": null}},
    "y": {"field": "y", "type": "quantitative", "scale": {"domain": [-1.455, 1.47], "nice": false, "zero": false}, "axis": {"values": [-1, -0.5, 0, 0.5, 1], "labels": false, "title": null}},
    "color": {"field": "s", "type": "nominal", "scale": {"domain": ["b", "o"], "range": ["#1f77b4", "#ff7f0e"]}, "legend": null}}},
  {"data": {"values": [{"z": 0}]}, "mark": {"type": "rule", "color": "black", "strokeWidth": 4, "strokeDash": [15, 6.5]}, "encoding": {"y": {"datum": 0}}}
 ]},
{"width": 592, "height": 460, "title": "Other Nanog removed",
 "layer": [
  {"transform": [{"filter": "datum.g == 3"}],
   "mark": {"type": "line", "strokeWidth": 3, "strokeJoin": "round"},
   "encoding": {
    "x": {"field": "x", "type": "quantitative", "scale": {"domain": [-10, 210], "nice": false, "zero": false}, "axis": {"values": [0, 50, 100, 150, 200], "title": null}},
    "y": {"field": "y", "type": "quantitative", "scale": {"domain": [-1.455, 1.47], "nice": false, "zero": false}, "axis": {"values": [-1, -0.5, 0, 0.5, 1], "labels": false, "title": null}},
    "color": {"field": "s", "type": "nominal", "scale": {"domain": ["b", "o"], "range": ["#1f77b4", "#ff7f0e"]}, "legend": null}}},
  {"data": {"values": [{"z": 0}]}, "mark": {"type": "rule", "color": "black", "strokeWidth": 4, "strokeDash": [15, 6.5]}, "encoding": {"y": {"datum": 0}}}
 ]},
{"width": 592, "height": 460, "title": "This Nanog removed",
 "layer": [
  {"transform": [{"filter": "datum.g == 4"}],
   "mark": {"type": "line", "strokeWidth": 3, "strokeJoin": "round"},
   "encoding": {
    "x": {"field": "x", "type": "quantitative", "scale": {"domain": [-10, 210], "nice": false, "zero": false}, "axis": {"values": [0, 50, 100, 150, 200], "title": null}},
    "y": {"field": "y", "type": "quantitative", "scale": {"domain": [-1.455, 1.47], "nice": false, "zero": false}, "axis": {"values": [-1, -0.5, 0, 0.5, 1], "labels": false, "title": null}},
    "color": {"field": "s", "type": "nominal", "scale": {"domain": ["b", "o"], "range": ["#1f77b4", "#ff7f0e"]}, "legend": null}}},
  {"data": {"values": [{"z": 0}]}, "mark": {"type": "rule", "color": "black", "strokeWidth": 4, "strokeDash": [15, 6.5]}, "encoding": {"y": {"datum": 0}}}
 ]},
{"width": 592, "height": 460, "title": "Both removed",
 "layer": [
  {"transform": [{"filter": "datum.g == 5"}],
   "mark": {"type": "line", "strokeWidth": 3, "strokeJoin": "round"},
   "encoding": {
    "x": {"field": "x", "type": "quantitative", "scale": {"domain": [-10, 210], "nice": false, "zero": false}, "axis": {"values": [0, 50, 100, 150, 200], "title": null}},
    "y": {"field": "y", "type": "quantitative", "scale": {"domain": [-1.455, 1.47], "nice": false, "zero": false}, "axis": {"values": [-1, -0.5, 0, 0.5, 1], "labels": false, "title": null}},
    "color": {"field": "s", "type": "nominal", "scale": {"domain": ["b", "o"], "range": ["#1f77b4", "#ff7f0e"]}, "legend": null}}},
  {"data": {"values": [{"z": 0}]}, "mark": {"type": "rule", "color": "black", "strokeWidth": 4, "strokeDash": [15, 6.5]}, "encoding": {"y": {"datum": 0}}}
 ]}
]
}
